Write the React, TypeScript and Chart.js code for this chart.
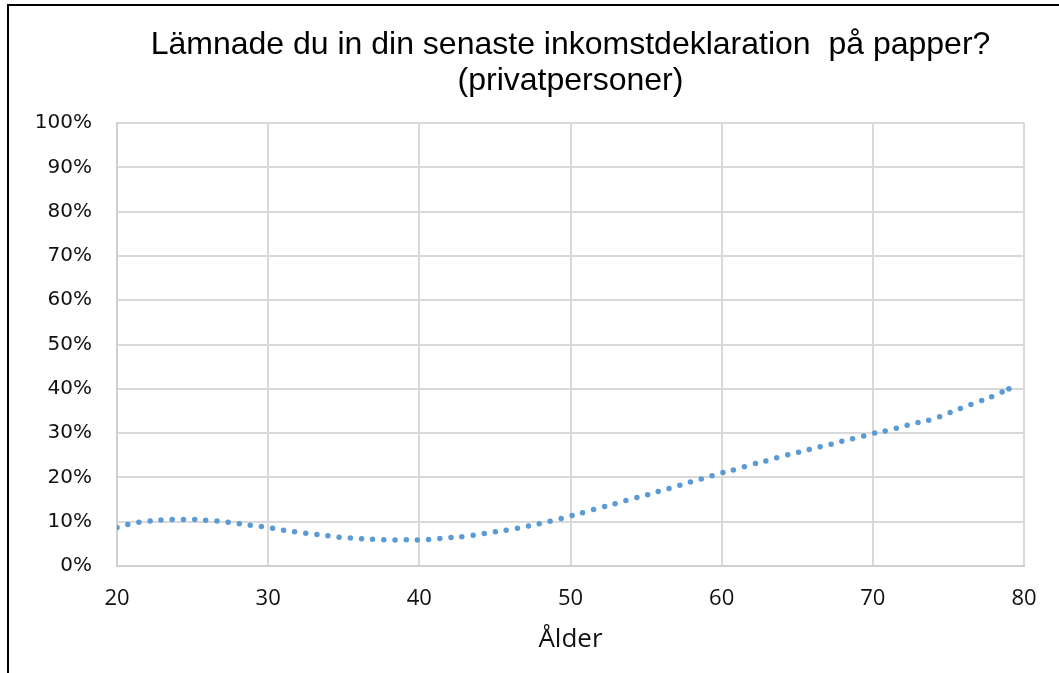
import React, { useEffect, useRef } from "react";
import { Chart, registerables } from "chart.js";

Chart.register(...registerables);

const ages: number[] = [
  20, 21, 22, 23, 24, 25, 26, 27, 28, 29,
  30, 31, 32, 33, 34, 35, 36, 37, 38, 39,
  40, 41, 42, 43, 44, 45, 46, 47, 48, 49,
  50, 51, 52, 53, 54, 55, 56, 57, 58, 59,
  60, 61, 62, 63, 64, 65, 66, 67, 68, 69,
  70, 71, 72, 73, 74, 75, 76, 77, 78, 79,
];

const paperShare: number[] = [
  8.7, 9.6, 10.1, 10.4, 10.5, 10.5, 10.3, 10.0, 9.6, 9.1,
  8.7, 8.1, 7.6, 7.2, 6.8, 6.4, 6.2, 6.0, 5.9, 5.9,
  5.9, 6.1, 6.4, 6.7, 7.2, 7.7, 8.2, 8.9, 9.6, 10.4,
  11.3, 12.2, 13.2, 14.1, 15.1, 16.0, 17.0, 18.0, 19.0, 20.0,
  21.0, 21.9, 22.9, 23.8, 24.8, 25.6, 26.5, 27.3, 28.2, 29.0,
  29.9, 30.6, 31.5, 32.4, 33.2, 34.5, 35.8, 37.1, 38.4, 40.0,
];

const titleLines: string[] = [
  "Lämnade du in din senaste inkomstdeklaration  på papper?",
  "(privatpersoner)",
];
const xAxisTitle = "Ålder";

export default function App() {
  const canvasRef = useRef<HTMLCanvasElement | null>(null);

  useEffect(() => {
    if (!canvasRef.current) return;
    const lastIndex = paperShare.length - 1;
    const chart = new Chart(canvasRef.current, {
      type: "line",
      data: {
        datasets: [
          {
            data: ages.map((a, i) => ({ x: a, y: paperShare[i] })),
            borderColor: "#5B9BD5",
            borderWidth: 5.5,
            borderDash: [0, 11.2],
            borderCapStyle: "round",
            pointRadius: (ctx: any) => (ctx.dataIndex === lastIndex ? 2.8 : 0),
            pointBackgroundColor: "#5B9BD5",
            pointBorderWidth: 0,
            tension: 0.4,
            fill: false,
          },
        ],
      },
      options: {
        animation: false,
        responsive: false,
        maintainAspectRatio: false,
        layout: { padding: { top: 0, left: 0, right: 35, bottom: 0 } },
        plugins: {
          legend: { display: false },
          tooltip: { enabled: false },
          title: {
            display: true,
            fullSize: false,
            text: titleLines,
            color: "#000",
            font: { family: "'Liberation Sans', Arial, sans-serif", size: 32, weight: "normal", lineHeight: 1.1 },
            padding: { top: 28, bottom: 24.6 },
          },
        },
        scales: {
          x: {
            type: "linear",
            min: 20,
            max: 80,
            ticks: {
              stepSize: 10,
              color: "#111",
              padding: 20,
              font: { family: "'Open Sans', sans-serif", size: 22 },
            },
            grid: { color: "#d9d9d9", lineWidth: 2, drawTicks: false },
            border: { color: "#d0d0d0", width: 2 },
            title: {
              display: true,
              text: xAxisTitle,
              color: "#111",
              font: { family: "'Open Sans', sans-serif", size: 26, lineHeight: 1.2 },
              padding: { top: 0, bottom: 18 },
            },
            afterFit: (scale: any) => {
              scale.height = 107;
            },
          },
          y: {
            min: 0,
            max: 100,
            ticks: {
              stepSize: 10,
              color: "#111",
              padding: 25,
              font: { family: "'DejaVu Sans', sans-serif", size: 20 },
              callback: (v: any) => `${v}%`,
            },
            grid: { color: "#d9d9d9", lineWidth: 2, drawTicks: false },
            border: { color: "#d0d0d0", width: 2 },
            afterFit: (scale: any) => {
              scale.width = 117;
            },
          },
        },
      },
    });
    return () => chart.destroy();
  }, []);

  return (
    <div style={{ position: "fixed", left: 0, top: 0, width: 1059, height: 673, background: "#fff", overflow: "hidden" }}>
      <div
        style={{
          position: "absolute",
          left: 7,
          top: 4,
          width: 1100,
          height: 720,
          borderTop: "2px solid #000",
          borderLeft: "2px solid #000",
        }}
      />
      <canvas
        ref={canvasRef}
        width={1059}
        height={673}
        style={{ position: "absolute", left: 0, top: 0, width: 1059, height: 673 }}
      />
    </div>
  );
}
